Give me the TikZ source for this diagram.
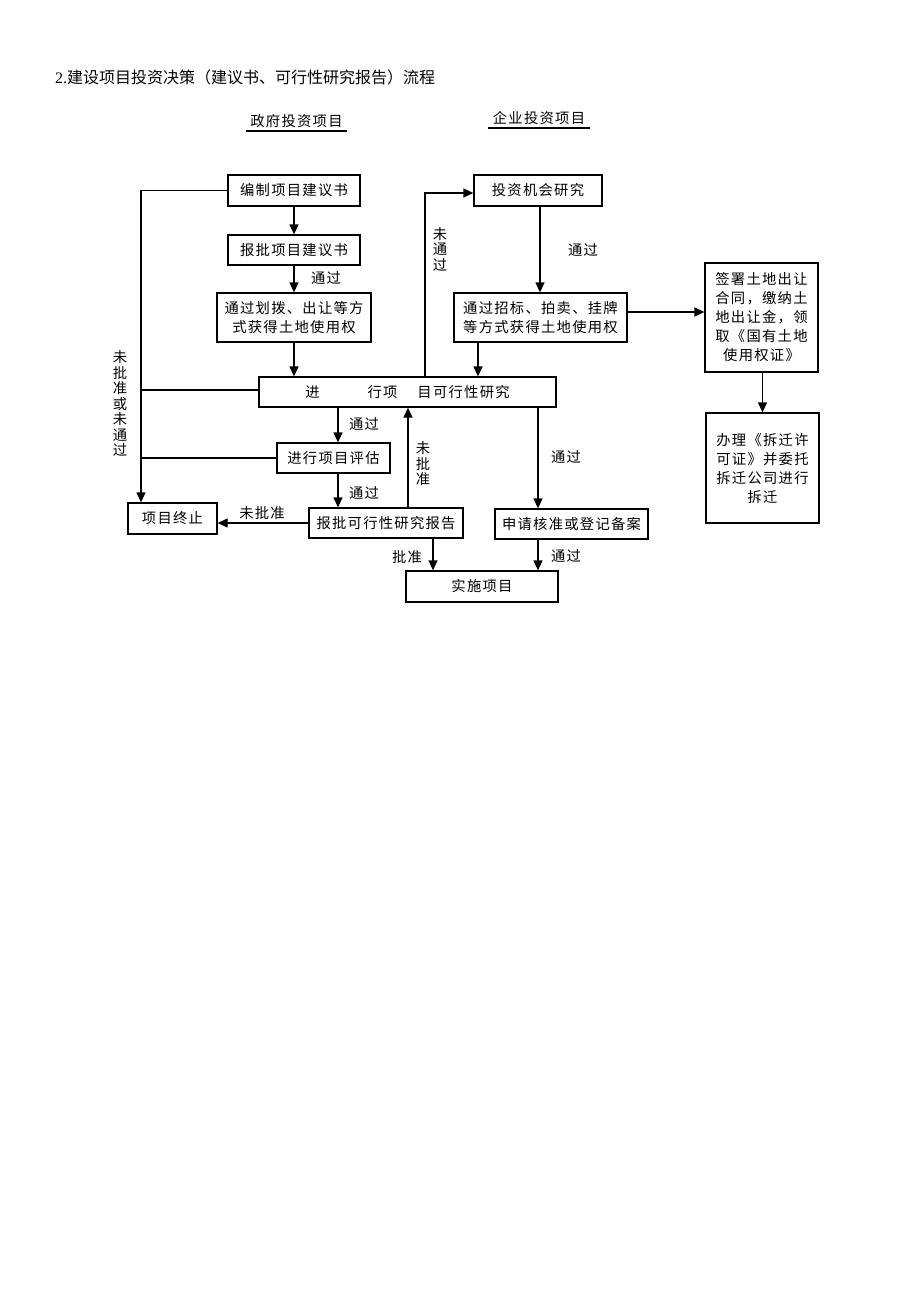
\documentclass[tikz,border=0pt]{standalone}
\usepackage{fontspec}
\setmainfont{Liberation Serif}
\newfontfamily\cjk[LetterSpace=9]{Noto Sans CJK SC}
\newfontfamily\cjktitle{Noto Sans CJK SC}
\usetikzlibrary{arrows.meta,calc}
\begin{document}
\begin{tikzpicture}[x=1pt,y=-1pt,
  box/.style={draw, line width=1.3pt, inner sep=0pt, align=center, font=\cjk\fontsize{14.3}{19}\selectfont},
  lbl/.style={inner sep=0pt, align=center, font=\cjk\fontsize{14.3}{15.5}\selectfont},
  ln/.style={line width=1.3pt},
  arr/.style={line width=1.3pt, -{Triangle[length=10pt,width=9pt]}},
]
\fill[white] (0,0) rectangle (920,1302);
\useasboundingbox (0,0) rectangle (920,1302);

% title and headings
\node[anchor=west, inner sep=0pt, font=\fontsize{16}{18}\selectfont] (title) at (55,77) {2.{\cjktitle 建设项目投资决策（建议书、可行性研究报告）流程}};
\node[lbl, minimum width=101pt, minimum height=20pt] (gov) at (296.5,121) {政府投资项目};
\draw[line width=1.6pt] (gov.south west) -- (gov.south east);
\node[lbl, minimum width=101pt, minimum height=20pt] (ent) at (539,118) {企业投资项目};
\draw[line width=1.6pt] (ent.south west) -- (ent.south east);

% boxes
\node[box, minimum width=132pt, minimum height=31pt] (bz) at (294,190.5) {编制项目建议书};
\node[box, minimum width=132pt, minimum height=30pt] (bp) at (294,250) {报批项目建议书};
\node[box, minimum width=154pt, minimum height=49pt] (hb) at (294,317.5) {通过划拨、出让等方\\式获得土地使用权};
\node[box, minimum width=128pt, minimum height=31pt] (tz) at (538,190.5) {投资机会研究};
\node[box, minimum width=173pt, minimum height=49pt] (zb) at (540.5,317.5) {通过招标、拍卖、挂牌\\等方式获得土地使用权};
\node[box, minimum width=113pt, minimum height=109pt] (qs) at (761.5,317.5) {签署土地出让\\合同，缴纳土\\地出让金，领\\取《国有土地\\使用权证》};
\node[box, minimum width=297pt, minimum height=30pt] (kx) at (407.5,392) {进\hspace{48pt}行项\hspace{20pt}目可行性研究};
\node[box, minimum width=113pt, minimum height=30pt] (pg) at (333.5,458) {进行项目评估};
\node[box, minimum width=154pt, minimum height=30pt] (pk) at (386,523) {报批可行性研究报告};
\node[box, minimum width=89pt, minimum height=31pt] (zz) at (172.5,518.5) {项目终止};
\node[box, minimum width=153pt, minimum height=30pt] (sq) at (571.5,524) {申请核准或登记备案};
\node[box, minimum width=152pt, minimum height=31pt] (ss) at (482,586.5) {实施项目};
\node[box, minimum width=113pt, minimum height=110pt] (bl) at (762.5,468) {办理《拆迁许\\可证》并委托\\拆迁公司进行\\拆迁};

% column coordinates
\coordinate (cL) at (141,0);
\coordinate (c338) at (338,0);
\coordinate (c408) at (408,0);
\coordinate (c425) at (425,0);
\coordinate (c433) at (433,0);
\coordinate (c478) at (478,0);
\coordinate (c538) at (538,0);
\coordinate (c540) at (540,0);

% government track
\draw[arr] (bz.south) -- (bp.north);
\draw[arr] (bp.south) -- (hb.north);
\node[lbl] (l1) at (326,278) {通过};
\draw[arr] (hb.south) -- (hb.south |- kx.north);

% enterprise track
\draw[arr] (tz.south -| c540) -- (zb.north -| c540);
\node[lbl] (l2) at (583,250) {通过};
\draw[arr] ([yshift=5.5pt]zb.east) -- ([yshift=5.5pt]zb.east -| qs.west);
\draw[arr] (qs.south -| bl.north) -- (bl.north);
\draw[arr] (zb.south -| c478) -- (kx.north -| c478);
\draw[arr] (kx.north -| c425) |- ([yshift=-2.5pt]tz.west);
\node[lbl] (l3) at (440,249) {未\\通\\过};

% feasibility study downstream
\draw[arr] (kx.south -| c338) -- (pg.north -| c338);
\node[lbl] (l4) at (364,424) {通过};
\draw[arr] (pg.south -| c338) -- (pk.north -| c338);
\node[lbl] (l5) at (364,493) {通过};
\draw[arr] (pk.north -| c408) -- (kx.south -| c408);
\node[lbl] (l6) at (423,464) {未\\批\\准};
\draw[arr] (pk.west) -- (pk.west -| zz.east);
\node[lbl] (l7) at (262,513) {未批准};
\draw[arr] (kx.south -| c538) -- (sq.north -| c538);
\node[lbl] (l8) at (566,457) {通过};
\draw[arr] (pk.south -| c433) -- (ss.north -| c433);
\node[lbl] (l9) at (407,557) {批准};
\draw[arr] (sq.south -| c538) -- (ss.north -| c538);
\node[lbl] (l10) at (566,556) {通过};

% left termination line
\draw[arr] (bz.west) -| (zz.north -| cL);
\draw[ln] ([yshift=2pt]kx.west) -- ([yshift=2pt]kx.west -| cL);
\draw[ln] (pg.west) -- (pg.west -| cL);
\node[lbl] (l11) at (120,403.5) {未\\批\\准\\或\\未\\通\\过};
\end{tikzpicture}
\end{document}
